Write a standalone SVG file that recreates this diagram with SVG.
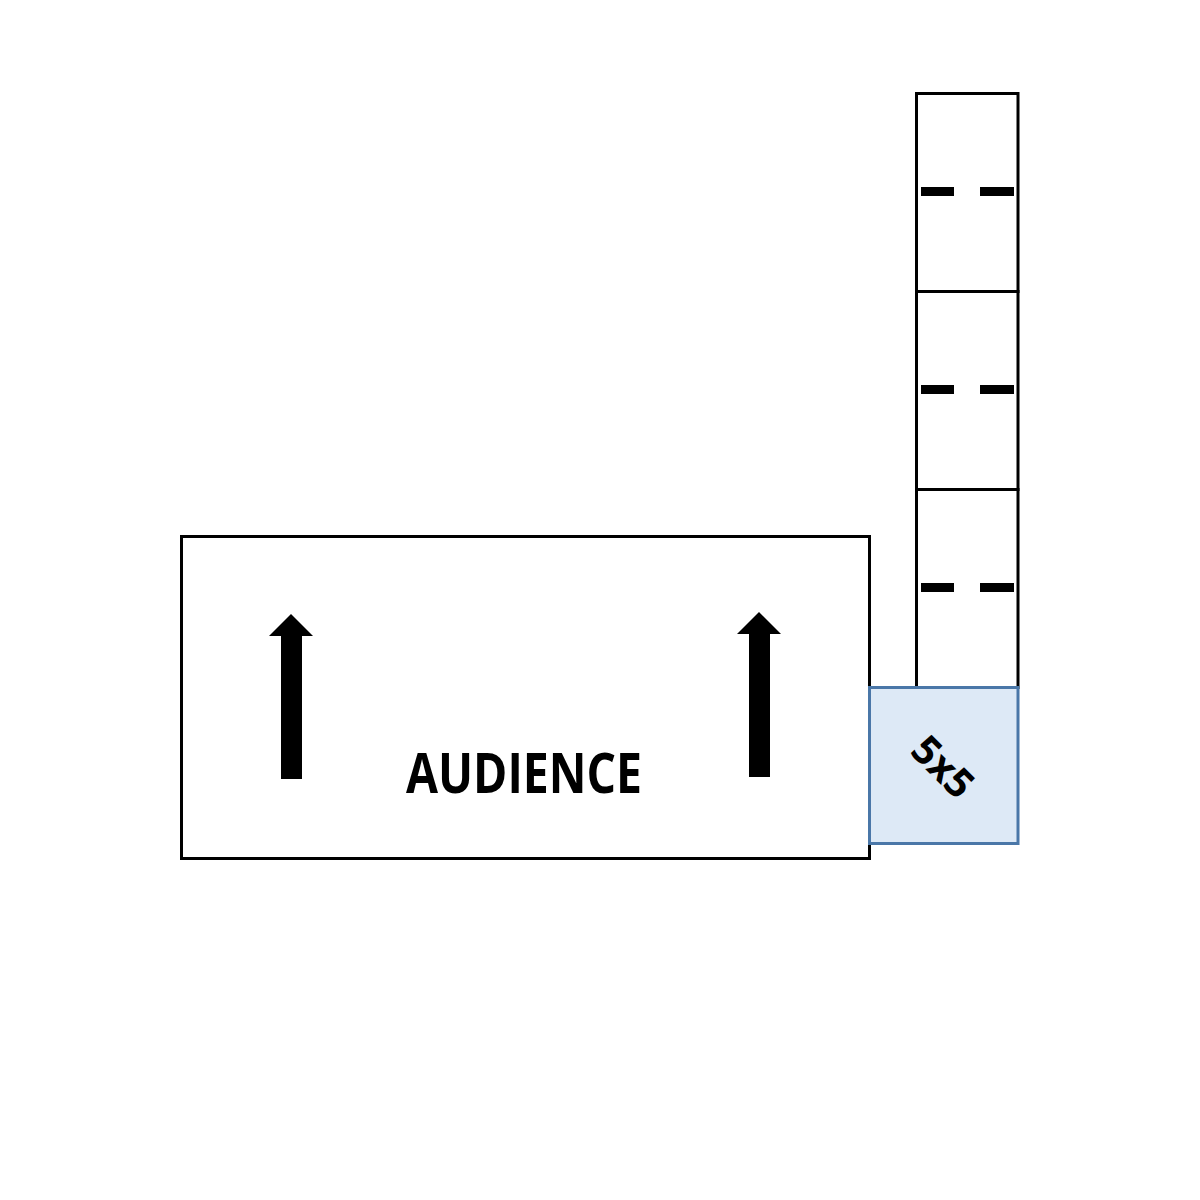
<svg xmlns="http://www.w3.org/2000/svg" width="1200" height="1200" viewBox="0 0 1200 1200">
<style>
.box{fill:#fff;stroke:#000;stroke-width:3}
.dash{fill:#000}
.lbl{font-family:"Open Sans","Liberation Sans",sans-serif;font-weight:bold;fill:#000}
</style>
<rect width="1200" height="1200" fill="#fff"/>
<g id="audience">
<rect class="box" x="181.5" y="536.5" width="688" height="322"/>
<path d="M281 779 V636 H269 L291 614 L313 636 H302 V779 Z" fill="#000"/>
<path d="M749 777 V634 H737 L759 612 L781 634 H770 V777 Z" fill="#000"/>
<text class="lbl" x="524" y="793" text-anchor="middle" font-size="55" textLength="236" lengthAdjust="spacingAndGlyphs">AUDIENCE</text>
</g>
<g id="seg1">
<rect class="box" x="916.5" y="93.5" width="101.5" height="198"/>
<rect class="dash" x="921" y="187" width="33" height="9"/>
<rect class="dash" x="980" y="187" width="34" height="9"/>
</g>
<g id="seg2">
<rect class="box" x="916.5" y="291.5" width="101.5" height="198"/>
<rect class="dash" x="921" y="385" width="33" height="9"/>
<rect class="dash" x="980" y="385" width="34" height="9"/>
</g>
<g id="seg3">
<rect class="box" x="916.5" y="489.5" width="101.5" height="198"/>
<rect class="dash" x="921" y="583" width="33" height="9"/>
<rect class="dash" x="980" y="583" width="34" height="9"/>
</g>
<g id="square">
<rect x="869.5" y="687.5" width="148.5" height="156" fill="#dde9f6" stroke="#4a77a8" stroke-width="3"/>
<text class="lbl" x="0" y="0" font-size="40" text-anchor="middle" transform="translate(943 767) rotate(45) translate(0 14)">5x5</text>
</g>
<g id="connectors"></g>
</svg>
